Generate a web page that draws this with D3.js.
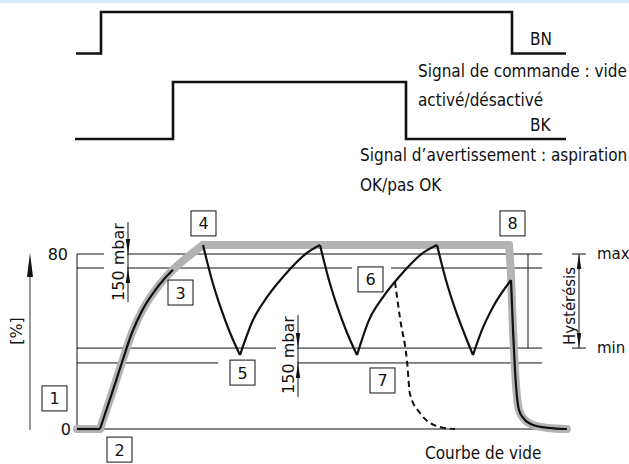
<!DOCTYPE html>
<html><head><meta charset="utf-8">
<script src="https://cdn.jsdelivr.net/npm/d3@7"></script>
<style>
html,body{margin:0;padding:0;background:#fff;}
svg{display:block;}
</style></head><body>
<svg id="c" width="629" height="464"></svg>
<script>
// ---------- data ----------
const timeDomain = [0, 490];
const pctDomain = [0, 80];
const yTicks = [0, 80];
const thresholdLines = [80, 73.6, 37, 30.2];
const bnSignal = [[-1, 0], [24, 1], [435, 0], [489, 0]];
const bkSignal = [[-2, 0], [96, 1], [329, 0], [489, 0]];
const flatStart = [[0, 0], [23, 0]];
const envelopeRise = [[23, 0], [34, 15], [45, 30.5], [55, 44], [65, 54], [76, 62], [88, 69], [100, 74.5], [113, 79.5], [126, 84.1]];
const envelopePlateau = [[126, 84.1], [432, 84.1]];
const envelopeDrop = [[432, 84.1], [434, 70], [436, 45.3], [438, 27], [440, 14.6], [442, 8.7], [447, 4.6], [456, 1.8], [471, 0.5], [490, 0]];
const vacuumRise = [[23, 0], [34, 15], [45, 30.5], [55, 44], [65, 54], [76, 62], [88, 69], [96, 72.8]];
const cycleDown = [
  [[126, 84.1], [135, 68], [144, 55], [153, 44], [163, 33.8]],
  [[243, 84.1], [252, 68], [261, 55], [270, 44], [280, 33.8]],
  [[360, 84.1], [369, 68], [378, 55], [387, 44], [396, 33.8]]
];
const cycleUp = [
  [[163, 33.8], [176, 49.8], [190, 60.3], [206, 69.5], [230, 80.5], [243, 84.1]],
  [[280, 33.8], [292, 49.8], [306, 60.3], [322, 69.5], [346, 80.5], [360, 84.1]],
  [[396, 33.8], [405, 45.3], [416, 55.8], [434, 68.1]]
];
const releaseDrop = [[434, 68.1], [436, 45.3], [438, 27], [440, 14.6], [442, 8.7], [447, 4.6], [456, 1.8], [471, 0.5], [490, 0]];
const leakCurve = [[318, 67.3], [323, 50.7], [330, 31.1], [333, 16], [343, 7.3], [363, 0.9], [378, 0]];
const stepLabels = ["1", "2", "3", "4", "5", "6", "7", "8"];
const stepAnchors = [[-35, 19.7], [30, -3.7], [91, 68.1], [114, 99.7], [153, 31.5], [281, 74.1], [293, 27.9], [423, 99.7]];
const texts = {
  bn: "BN", bk: "BK",
  cmd1: "Signal de commande : vide", cmd2: "activé/désactivé",
  warn1: "Signal d’avertissement : aspiration", warn2: "OK/pas OK",
  curve: "Courbe de vide", unit: "[%]", dim: "150 mbar",
  hyst: "Hystérésis", max: "max", min: "min"
};

// ---------- drawing ----------
const svg = d3.select("#c");
const x = d3.scaleLinear(timeDomain, [77, 567]);
const y = d3.scaleLinear(pctDomain, [429, 254]);
const yBN = d3.scaleLinear([0, 1], [53.5, 12]);
const yBK = d3.scaleLinear([0, 1], [139, 82]);
const COND = "'DejaVu Sans Condensed','DejaVu Sans',sans-serif";
const ISO = "'DejaVu Sans',sans-serif";
const INK = "#111";

svg.append("rect").attr("x", 0).attr("y", 0).attr("width", 629).attr("height", 3).attr("fill", "#d6eaf5");

// top signals
const stepLine = (ys) => d3.line().x(d => x(d[0])).y(d => ys(d[1])).curve(d3.curveStepAfter);
svg.append("path").attr("d", stepLine(yBN)(bnSignal)).attr("fill", "none").attr("stroke", INK).attr("stroke-width", 2.6);
svg.append("path").attr("d", stepLine(yBK)(bkSignal)).attr("fill", "none").attr("stroke", INK).attr("stroke-width", 2.6);

function ctext(t, px, py, size, anchor) {
  return svg.append("text").attr("x", px).attr("y", py).text(t)
    .attr("font-family", COND).attr("font-stretch", "condensed").attr("font-size", size)
    .attr("fill", INK).attr("text-anchor", anchor || "start");
}
ctext(texts.bn, 530, 45, 17);
ctext(texts.cmd1, 418, 77, 17);
ctext(texts.cmd2, 418, 106, 17);
ctext(texts.bk, 530, 131, 17);
ctext(texts.warn1, 360, 161, 17);
ctext(texts.warn2, 360, 191, 17);
ctext(texts.curve, 425, 459, 17);

// threshold lines
const lineRight = 542;
svg.selectAll("line.thr").data(thresholdLines).join("line").attr("class", "thr")
  .attr("x1", x(0)).attr("x2", lineRight).attr("y1", d => y(d)).attr("y2", d => y(d))
  .attr("stroke", INK).attr("stroke-width", 1);
svg.append("line").attr("x1", x(0)).attr("x2", lineRight).attr("y1", y(0)).attr("y2", y(0)).attr("stroke", INK).attr("stroke-width", 1);
svg.append("line").attr("x1", x(0)).attr("x2", x(0)).attr("y1", y(0)).attr("y2", y(80)).attr("stroke", INK).attr("stroke-width", 1);

// knockouts behind labels
const knock = [[104, 220, 23, 84], [276, 313, 21, 84], [218, 357, 58, 10], [352, 262, 39, 10]];
knock.forEach(k => svg.append("rect").attr("x", k[0]).attr("y", k[1]).attr("width", k[2]).attr("height", k[3]).attr("fill", "#fff"));

// y tick labels
svg.selectAll("text.yt").data(yTicks).join("text").attr("class", "yt")
  .attr("x", d => d === 0 ? 71 : 68).attr("y", d => y(d) + 5.5).text(d => d)
  .attr("font-family", ISO).attr("font-size", 16).attr("text-anchor", "end").attr("fill", INK);

// y axis arrow
svg.append("line").attr("x1", 30).attr("x2", 30).attr("y1", 270).attr("y2", y(0) + 1).attr("stroke", "#333").attr("stroke-width", 1);
svg.append("path").attr("d", "M30,253 L27,277 L33,277 Z").attr("fill", INK);
svg.append("text").attr("transform", "translate(22,331) rotate(-90)").text(texts.unit)
  .attr("font-family", ISO).attr("font-size", 16).attr("text-anchor", "middle").attr("fill", INK);

// envelope (grey)
const lin = d3.line().x(d => x(d[0])).y(d => y(d[1]));
const smooth = d3.line().x(d => x(d[0])).y(d => y(d[1])).curve(d3.curveMonotoneX);
const grey = "#b3b3b3";
[[flatStart, lin], [envelopeRise, smooth], [envelopePlateau, lin], [envelopeDrop, smooth]].forEach(([pts, g]) =>
  svg.append("path").attr("d", g(pts)).attr("fill", "none").attr("stroke", grey).attr("stroke-width", 8)
    .attr("stroke-linecap", "round").attr("stroke-linejoin", "round"));

// vacuum curve (black)
const blackPieces = [[flatStart, lin], [vacuumRise, smooth], [releaseDrop, smooth]]
  .concat(cycleDown.map(p => [p, smooth])).concat(cycleUp.map(p => [p, smooth]));
blackPieces.forEach(([pts, g]) =>
  svg.append("path").attr("d", g(pts)).attr("fill", "none").attr("stroke", INK).attr("stroke-width", 2.2)
    .attr("stroke-linecap", "butt"));
svg.append("path").attr("d", smooth(leakCurve)).attr("fill", "none").attr("stroke", INK).attr("stroke-width", 2)
  .attr("stroke-dasharray", "6,4");

// dimension: 150 mbar (two places)
function dim(px, yTop, yA, yB, yBot, tx, ty) {
  svg.append("line").attr("x1", px).attr("x2", px).attr("y1", yTop).attr("y2", yBot).attr("stroke", INK).attr("stroke-width", 1);
  svg.append("path").attr("d", `M${px},${yA} L${px - 2.2},${yA - 15} L${px + 2.2},${yA - 15} Z`).attr("fill", INK);
  svg.append("path").attr("d", `M${px},${yB} L${px - 2.2},${yB + 15} L${px + 2.2},${yB + 15} Z`).attr("fill", INK);
  svg.append("text").attr("transform", `translate(${tx},${ty}) rotate(-90)`).text(texts.dim)
    .attr("font-family", ISO).attr("font-size", 16).attr("text-anchor", "middle").attr("fill", INK);
}
dim(128, 222, y(thresholdLines[0]), y(thresholdLines[1]), 302, 124, 262);
dim(298, 315, y(thresholdLines[2]), y(thresholdLines[3]), 397, 294, 355);

// hysteresis
svg.append("line").attr("x1", 528).attr("x2", 528).attr("y1", y(80)).attr("y2", y(37)).attr("stroke", INK).attr("stroke-width", 1);
svg.append("line").attr("x1", 579).attr("x2", 579).attr("y1", y(80)).attr("y2", y(37)).attr("stroke", INK).attr("stroke-width", 1);
[y(80), y(37)].forEach(v => svg.append("line").attr("x1", 572).attr("x2", 586).attr("y1", v).attr("y2", v).attr("stroke", INK).attr("stroke-width", 1));
svg.append("path").attr("d", `M579,${y(80)} L576.8,${y(80) + 15} L581.2,${y(80) + 15} Z`).attr("fill", INK);
svg.append("path").attr("d", `M579,${y(37)} L576.8,${y(37) - 15} L581.2,${y(37) - 15} Z`).attr("fill", INK);
svg.append("text").attr("transform", `translate(575,306) rotate(-90)`).text(texts.hyst)
  .attr("font-family", ISO).attr("font-size", 15).attr("text-anchor", "middle").attr("fill", INK);
svg.append("text").attr("x", 597).attr("y", 259).text(texts.max).attr("font-family", ISO).attr("font-size", 15).attr("fill", INK);
svg.append("text").attr("x", 597).attr("y", 353).text(texts.min).attr("font-family", ISO).attr("font-size", 15).attr("fill", INK);

// step boxes
const bs = 25;
const g = svg.selectAll("g.box").data(stepLabels).join("g").attr("class", "box")
  .attr("transform", (d, i) => `translate(${x(stepAnchors[i][0])},${y(stepAnchors[i][1])})`);
g.append("rect").attr("width", bs).attr("height", bs).attr("fill", "#fff").attr("stroke", INK).attr("stroke-width", 1);
g.append("text").attr("x", bs / 2).attr("y", bs / 2 + 6).text(d => d)
  .attr("font-family", ISO).attr("font-size", 16).attr("text-anchor", "middle").attr("fill", INK);
</script>
</body></html>
